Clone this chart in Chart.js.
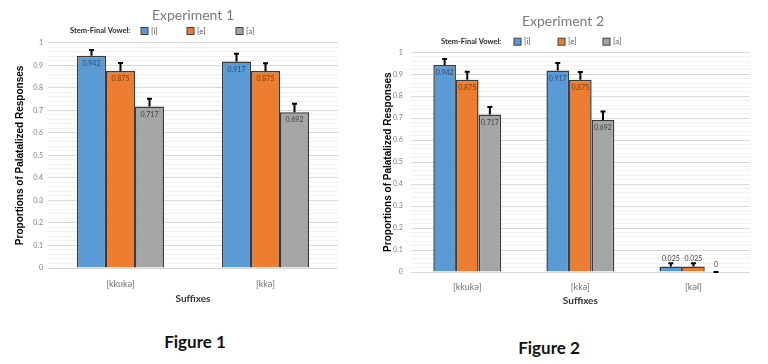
<!DOCTYPE html>
<html>
<head>
<meta charset="utf-8">
<script src="https://cdn.jsdelivr.net/npm/chart.js@4/dist/chart.umd.min.js"></script>
<style>
  body { margin: 0; background: #fff; width: 768px; height: 364px; overflow: hidden; position: relative; font-family: Lato, sans-serif; }
  canvas { position: absolute; top: 0; }
  #c1 { left: 0; }
  #c2 { left: 376px; }
  .fig { position: absolute; font-weight: bold; font-size: 17px; color: #111; transform: translate(-50%, -50%); white-space: nowrap; }
</style>
</head>
<body>
<canvas id="c1" width="384" height="310"></canvas>
<canvas id="c2" width="392" height="314"></canvas>
<div class="fig" style="left:195px; top:341px;">Figure 1</div>
<div class="fig" style="left:549px; top:347px;">Figure 2</div>
<script>
// categories
const suffixes1 = ['[kkukə]', '[kkə]'];
const suffixes2 = ['[kkukə]', '[kkə]', '[kəl]'];
const vowels = ['[i]', '[e]', '[a]'];

// Experiment 1 proportions + upper error
const exp1I = [0.942, 0.917];
const exp1E = [0.875, 0.875];
const exp1A = [0.717, 0.692];
const exp1IErr = [0.026, 0.034];
const exp1EErr = [0.035, 0.034];
const exp1AErr = [0.034, 0.037];

// Experiment 2
const exp2I = [0.942, 0.917, 0.025];
const exp2E = [0.875, 0.875, 0.025];
const exp2A = [0.717, 0.692, 0];
const exp2IErr = [0.027, 0.034, 0.015];
const exp2EErr = [0.036, 0.035, 0.015];
const exp2AErr = [0.034, 0.038, 0];

const vowelColor = { '[i]': '#5b9bd5', '[e]': '#ed7d31', '[a]': '#a5a5a5' };
const vowelLabelColor = { '[i]': '#2a4a70', '[e]': '#7a3a10', '[a]': '#404040' };

const errorBars = {
  id: 'errorBars',
  afterDatasetsDraw(chart) {
    const ctx = chart.ctx;
    const yScale = chart.scales.y;
    ctx.save();
    chart.data.datasets.forEach((ds, i) => {
      const meta = chart.getDatasetMeta(i);
      meta.data.forEach((bar, j) => {
        const top = yScale.getPixelForValue(ds.data[j] + ds.err[j]);
        ctx.strokeStyle = '#000';
        ctx.lineWidth = 2;
        ctx.beginPath();
        ctx.moveTo(bar.x, bar.y);
        ctx.lineTo(bar.x, top);
        ctx.moveTo(bar.x - 2.5, top);
        ctx.lineTo(bar.x + 2.5, top);
        ctx.stroke();
        // value label
        ctx.font = '7px Lato';
        ctx.textAlign = 'center';
        ctx.textBaseline = 'middle';
        if (ds.data[j] > 0.5) {
          ctx.fillStyle = vowelLabelColor[ds.label];
          ctx.fillText(String(ds.data[j]), bar.x, bar.y + 8);
        } else {
          ctx.fillStyle = '#404040';
          ctx.fillText(String(ds.data[j]), bar.x, bar.y - 7.5);
        }
      });
    });
    ctx.restore();
  }
};

const vowelLegend = {
  id: 'vowelLegend',
  afterDraw(chart, args, opts) {
    const ctx = chart.ctx;
    ctx.save();
    ctx.textBaseline = 'middle';
    ctx.textAlign = 'left';
    ctx.font = 'bold 7.5px Lato';
    ctx.fillStyle = '#262626';
    ctx.fillText('Stem-Final Vowel:', opts.labelX, opts.y);
    ctx.font = '8px Lato';
    chart.data.datasets.forEach((ds, i) => {
      const x = opts.itemX[i];
      ctx.fillStyle = ds.backgroundColor;
      ctx.fillRect(x, opts.y - 3.5, 7, 7);
      ctx.strokeStyle = '#404040';
      ctx.lineWidth = 1;
      ctx.strokeRect(x, opts.y - 3.5, 7, 7);
      ctx.fillStyle = '#595959';
      ctx.fillText(ds.label, x + 10, opts.y);
    });
    ctx.restore();
  }
};

const makeChart = (id, title, labels, series, errs, lay) => {
  const datasets = vowels.map((v, i) => ({
    label: v,
    data: series[i],
    err: errs[i],
    backgroundColor: vowelColor[v],
    borderColor: '#3a3a3a',
    borderWidth: 1.5,
    categoryPercentage: 0.6,
    barPercentage: 1
  }));
  return new Chart(document.getElementById(id), {
    type: 'bar',
    data: { labels, datasets },
    plugins: [errorBars, vowelLegend],
    options: {
      responsive: false,
      animation: false,
      layout: { padding: { left: 0, right: lay.right, top: 0, bottom: 2 } },
      plugins: {
        legend: { display: false },
        tooltip: { enabled: false },
        title: {
          display: true,
          text: title,
          fullSize: lay.titleFull,
          color: '#7a7a7a',
          font: { family: 'Lato', size: 14, weight: 'normal' },
          padding: { top: lay.titleTop, bottom: lay.titleBottom }
        },
        vowelLegend: { labelX: lay.legendLabelX, itemX: lay.legendItemX, y: lay.legendY }
      },
      scales: {
        x: {
          grid: { display: false },
          border: { display: false },
          ticks: { color: '#6f6f6f', font: { family: 'Lato', size: 9 }, padding: lay.xTickPad },
          title: {
            display: true,
            text: 'Suffixes',
            color: '#333',
            font: { family: 'Lato', size: 10, weight: 'bold' },
            padding: { top: 0, bottom: lay.xTitleBottom }
          },
          afterFit: (s) => { s.height = 40; }
        },
        y: {
          min: 0,
          max: 1,
          border: { display: false },
          grid: {
            drawTicks: false,
            color: (c) => (Math.round(c.tick.value * 50) % 5 === 0 ? '#d9d9d9' : '#f1f1f1'),
            lineWidth: 1
          },
          ticks: {
            stepSize: 0.02,
            autoSkip: false,
            padding: lay.yTickPad,
            color: '#7f7f7f',
            font: { family: 'Lato', size: 7 },
            callback: (v) => (Math.round(v * 50) % 5 === 0 ? String(Math.round(v * 10) / 10) : '')
          },
          title: {
            display: true,
            text: 'Proportions of Palatalized Responses',
            color: '#000',
            font: { family: 'Liberation Sans', size: 10, weight: 'bold' },
            padding: { top: lay.yTitleTop, bottom: 0 }
          },
          afterFit: (s) => { s.width = lay.yWidth; }
        }
      }
    }
  });
};

makeChart('c1', 'Experiment 1', suffixes1,
  [exp1I, exp1E, exp1A], [exp1IErr, exp1EErr, exp1AErr],
  { right: 46, titleFull: false, titleTop: 7, titleBottom: 19, legendLabelX: 70, legendItemX: [141, 187, 236], legendY: 31,
    xTickPad: 3, xTitleBottom: 3, yTickPad: 5, yTitleTop: 14, yWidth: 48 });

makeChart('c2', 'Experiment 2', suffixes2,
  [exp2I, exp2E, exp2A], [exp2IErr, exp2EErr, exp2AErr],
  { right: 18, titleFull: true, titleTop: 13, titleBottom: 22.5, legendLabelX: 65, legendItemX: [138, 182, 227], legendY: 41.7,
    xTickPad: 2, xTitleBottom: 5, yTickPad: 8, yTitleTop: 6, yWidth: 34.7 });
</script>
</body>
</html>
